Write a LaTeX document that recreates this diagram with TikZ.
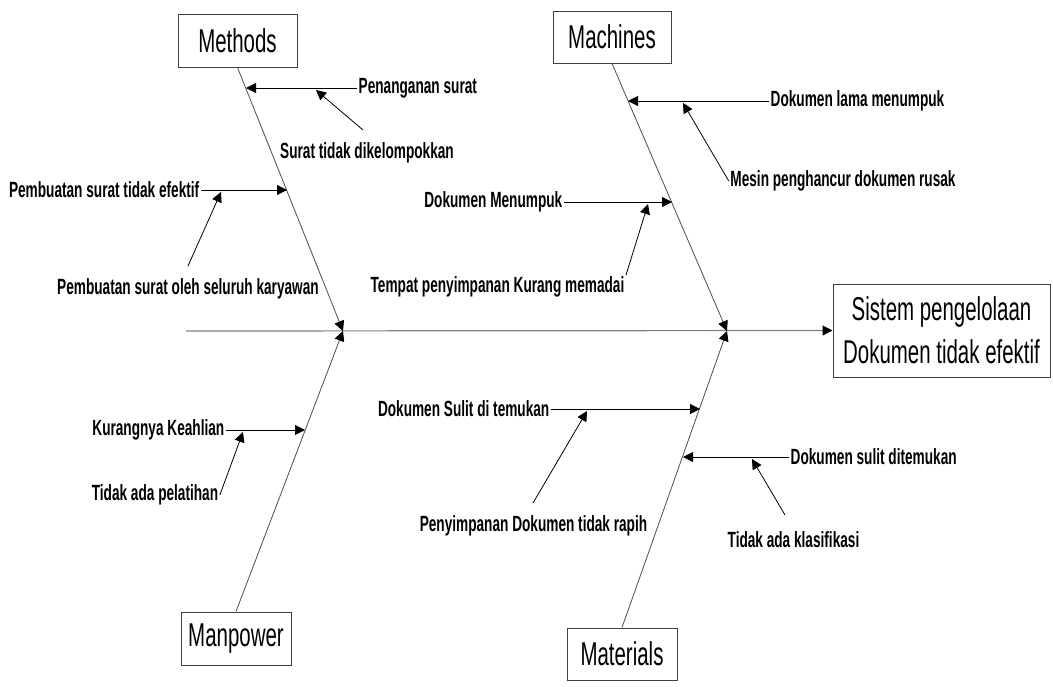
\documentclass[tikz,border=0pt]{standalone}
\usepackage{fontspec}
\setmainfont[FakeStretch=0.62]{Liberation Sans}
\usetikzlibrary{arrows.meta}

\tikzset{
  tip/.style={-{Triangle[length=10pt,width=10pt,color=black]}},
  bone/.style={draw=black!70, line width=0.8pt, tip},
  sub/.style={draw=black, line width=0.8pt, tip},
}

\begin{document}
\begin{tikzpicture}[x=1pt,y=-1pt]
        \useasboundingbox (0,0) rectangle (1053,686);

        \begin{scope}[every node/.style={draw=black!75, line width=1pt, fill=white, font=\fontsize{33}{43}\selectfont}]
          \node[minimum width=119pt, minimum height=53pt] (methods)  at (237.5,40.5) {Methods};
          \node[minimum width=118pt, minimum height=52pt] (machines) at (612,37)     {Machines};
          \node[minimum width=110pt, minimum height=53pt] (manpower) at (236,638.5)  {Manpower};
          \node[minimum width=110pt, minimum height=52pt] (material) at (622,654)    {Materials};
          \node[minimum width=217pt, minimum height=93pt, align=center] (effect) at (941.5,330.5)
            {Sistem pengelolaan\\Dokumen tidak efektif};
        \end{scope}

        \coordinate (tail) at (186,331);
        \coordinate (j1)   at (343,331);
        \coordinate (j2)   at (727,331);

        \draw[draw=black!50, line width=1.2pt, tip] (tail) -- (effect.west);
        \path (methods.south)  edge[bone] (j1);
        \path (manpower.north) edge[bone] (j1);
        \path (machines.south) edge[bone] (j2);
        \path (material.north) edge[bone] (j2);

        \begin{scope}[every node/.style={font=\fontsize{22}{26}\selectfont\bfseries, inner sep=1.5pt}]
          \node[anchor=west] (pen)  at (357,88)    {Penanganan surat};
          \node              (stdk) at (367,153)   {Surat tidak dikelompokkan};
          \node[anchor=east] (pste) at (201,190)   {Pembuatan surat tidak efektif};
          \node              (psos) at (188,289)   {Pembuatan surat oleh seluruh karyawan};
          \node[anchor=west] (dlm)  at (769,101)   {Dokumen lama menumpuk};
          \node              (mpdr) at (843,181)   {Mesin penghancur dokumen rusak};
          \node[anchor=east] (dm)   at (564,202)   {Dokumen Menumpuk};
          \node              (tpkm) at (497.5,287) {Tempat penyimpanan Kurang memadai};
          \node[anchor=east] (kk)   at (226,430)   {Kurangnya Keahlian};
          \node              (tap)  at (155,495)   {Tidak ada pelatihan};
          \node[anchor=east] (dsdt) at (551,409)   {Dokumen Sulit di temukan};
          \node              (pdtr) at (533.5,526) {Penyimpanan Dokumen tidak rapih};
          \node[anchor=west] (dsd)  at (789,457)   {Dokumen sulit ditemukan};
          \node              (tak)  at (793.5,540) {Tidak ada klasifikasi};
        \end{scope}

        \coordinate (m1) at (246,88);
        \coordinate (m2) at (287,190);
        \coordinate (c1) at (628,101);
        \coordinate (c2) at (672,202);
        \coordinate (p1) at (305,430);
        \coordinate (t1) at (700,409);
        \coordinate (t2) at (683,457);

        \coordinate (m1a) at (316,90);
        \coordinate (m2a) at (221,192);
        \coordinate (c1a) at (683,103);
        \coordinate (c2a) at (648,204);
        \coordinate (p1a) at (243,432);
        \coordinate (t1a) at (587,411);
        \coordinate (t2a) at (752,459);

        \coordinate (m1b) at (363,130);
        \coordinate (m2b) at (188,266);
        \coordinate (t1b) at (533,503);
        \coordinate (t2b) at (785,515);

        \path (pen.west)  edge[sub] (m1);
        \path (pste.east) edge[sub] (m2);
        \path (dlm.west)  edge[sub] (c1);
        \path (dm.east)   edge[sub] (c2);
        \path (kk.east)   edge[sub] (p1);
        \path (dsdt.east) edge[sub] (t1);
        \path (dsd.west)  edge[sub] (t2);

        \path (m1b)             edge[sub] (m1a);
        \path (m2b)             edge[sub] (m2a);
        \path (mpdr.west)       edge[sub] (c1a);
        \path (tpkm.north east) edge[sub] (c2a);
        \path (tap.east)        edge[sub] (p1a);
        \path (t1b)             edge[sub] (t1a);
        \path (t2b)             edge[sub] (t2a);

      \end{tikzpicture}
\end{document}
